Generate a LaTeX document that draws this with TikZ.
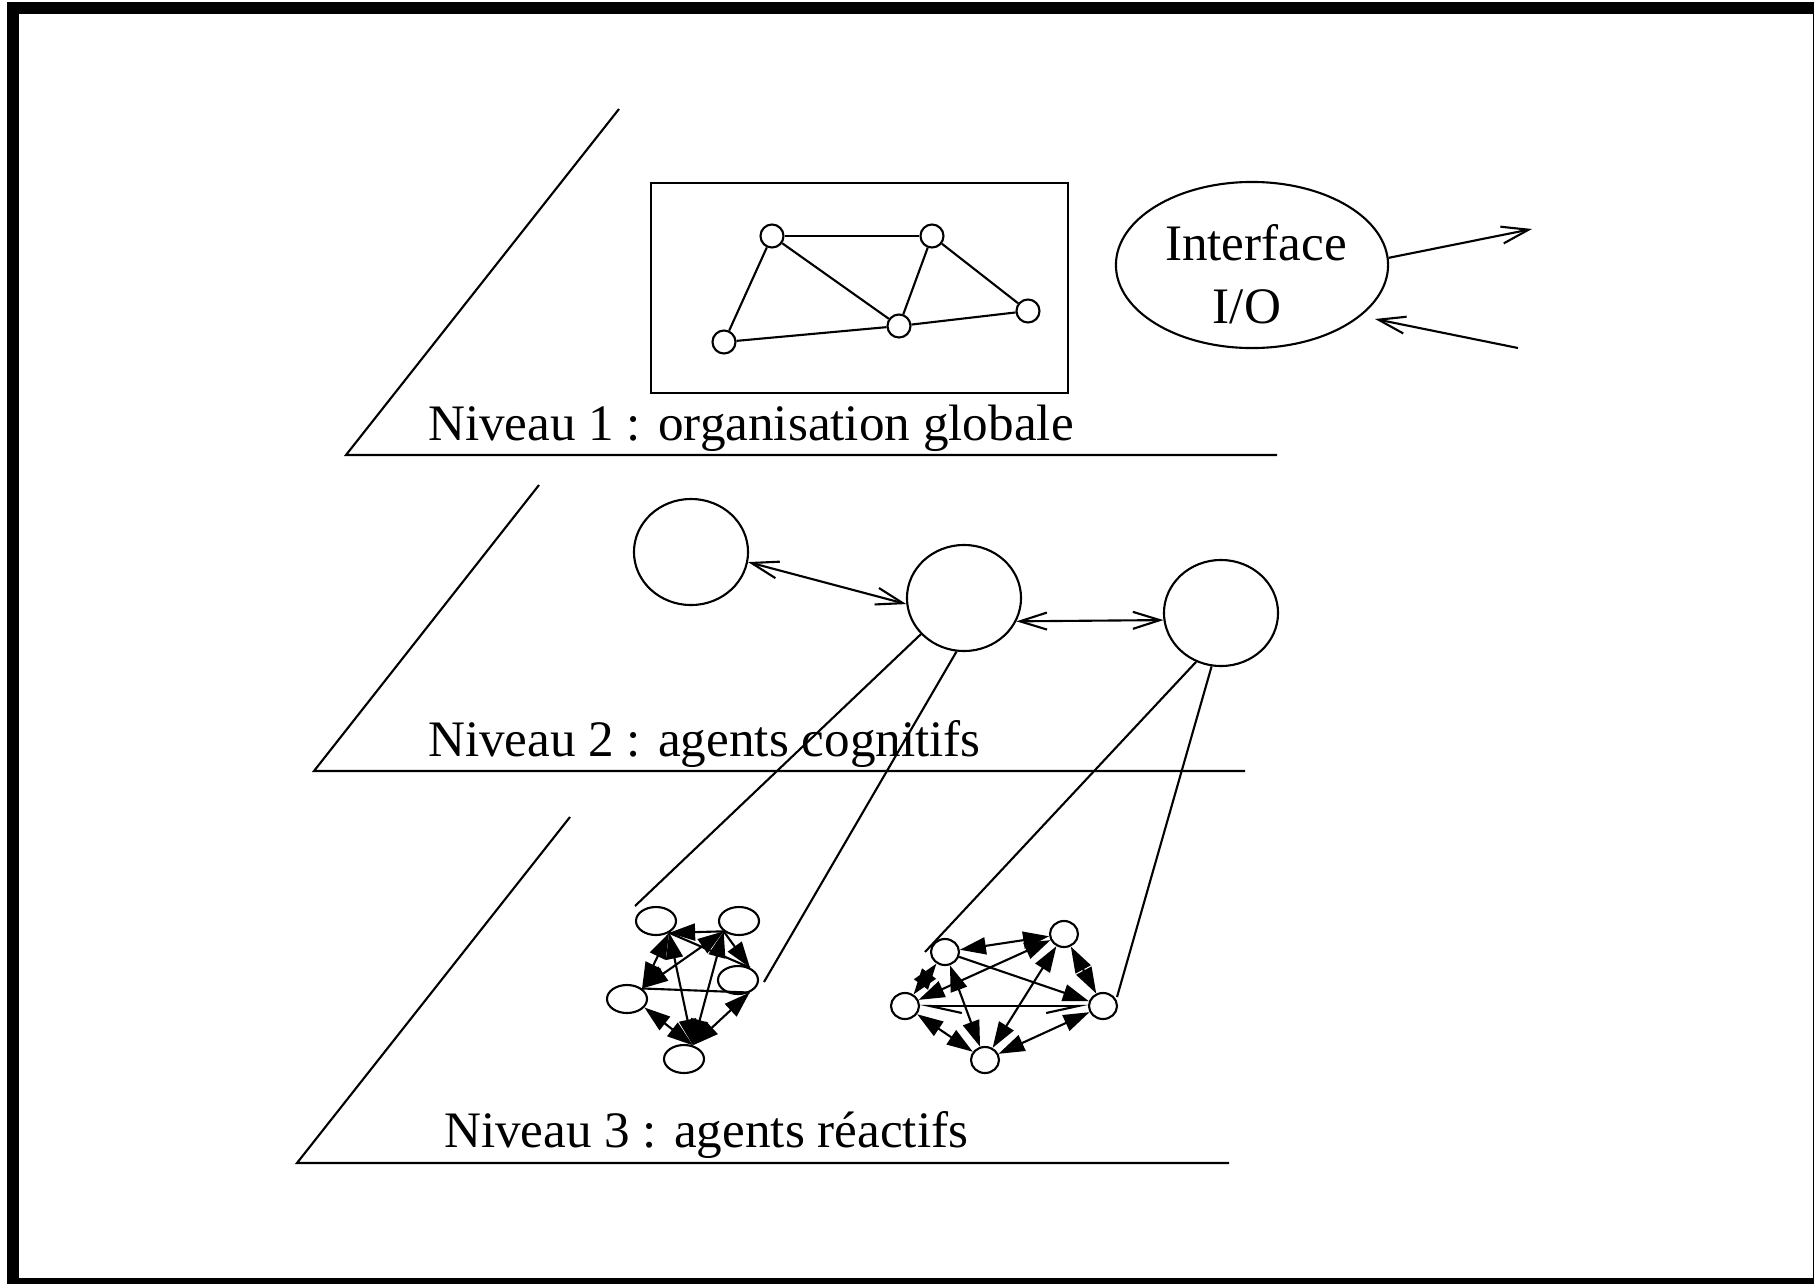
\documentclass[tikz,border=0pt]{standalone}
\usepackage{fontspec}
\setmainfont{Liberation Serif}
\usetikzlibrary{shapes.geometric,arrows.meta}
\begin{document}
\begin{tikzpicture}[x=0.01cm,y=-0.01cm,line width=0.6pt,
  lab/.style={font=\fontsize{14.55}{17}\selectfont,inner sep=0pt,anchor=base west},
  iotext/.style={font=\fontsize{14.55}{17}\selectfont,inner sep=0pt,anchor=base},
  snode/.style={circle,draw,minimum size=0.23cm,inner sep=0pt},
  agent/.style={ellipse,draw,minimum width=1.14cm,minimum height=1.06cm,inner sep=0pt},
  rA/.style={ellipse,draw,minimum width=0.40cm,minimum height=0.28cm,inner sep=0pt},
  rB/.style={ellipse,draw,minimum width=0.28cm,minimum height=0.26cm,inner sep=0pt},
  openarr/.style={-{Straight Barb[length=0.27cm,width=0.17cm]}},
  dopenarr/.style={{Straight Barb[length=0.27cm,width=0.17cm]}-{Straight Barb[length=0.27cm,width=0.17cm]}},
  fa/.style={-{Triangle[length=0.26cm,width=0.17cm]}},
  dfa/.style={{Triangle[length=0.26cm,width=0.17cm]}-{Triangle[length=0.26cm,width=0.17cm]}},
  barbs/.style={{Straight Barb[harpoon,length=0.32cm,width=0.14cm]}-{Straight Barb[harpoon,swap,length=0.32cm,width=0.14cm]}}
]
\useasboundingbox (0,0) rectangle (1814,1284);
% frame
\fill[black] (7,2) rectangle (1814,1284);
\fill[white] (19,14) rectangle (1812.7,1277.7);

% planes
\draw (619,109) -- (346,455) -- (1277,455);
\draw (539,485) -- (314,771) -- (1245,771);
\draw (570,817) -- (297,1163) -- (1229,1163);

\node[lab] (t1) at (427,440) {Niveau 1 : organisation globale};
\node[lab] (t2) at (427,756) {Niveau 2 : agents cognitifs};
\node[lab] (t3) at (443,1147) {Niveau 3 : agents réactifs};

% level 1 box and network
\draw (651,183) rectangle (1068,393);
\node[snode] (A) at (772,236) {};
\node[snode] (B) at (932,236) {};
\node[snode] (C) at (724,342) {};
\node[snode] (D) at (899,326) {};
\node[snode] (E) at (1028,311) {};
\draw (A) -- (B);
\draw (A) -- (C);
\draw (A) -- (D);
\draw (B) -- (D);
\draw (B) -- (E);
\draw (C) -- (D);
\draw (D) -- (E);

% interface
\node[ellipse,draw,minimum width=2.72cm,minimum height=1.66cm,inner sep=0pt] (io) at (1252,265) {};
\node[iotext] (it1) at (1256,260) {Interface};
\node[iotext] (it2) at (1247,323) {I/O};
\coordinate (outend) at (1532,229);
\coordinate (instart) at (1518,348);
\draw[openarr] (io.3) -- (outend);
\draw[openarr] (instart) -- (1375,319);

% level 2
\node[agent] (C1) at (691,552) {};
\node[agent] (C2) at (964,598) {};
\node[agent] (C3) at (1221,613) {};
\draw[dopenarr] (C1.-10) -- (C2.186);
\draw[dopenarr] (C2.-24) -- (C3.187);

% level 3 cluster 1
\node[rA] (n1) at (656,921) {};
\node[rA] (n2) at (739,921) {};
\node[rA] (n3) at (627,999) {};
\node[rA] (n4) at (738,980) {};
\node[rA] (n5) at (684,1059) {};
\draw[fa] (n2.214) -- (n1.-42);
\draw[dfa] (n1.-42) -- (n3.35);
\draw[dfa] (n2.214) -- (n3.35);
\draw[dfa] (n1.-42) -- (n5.57);
\draw[dfa] (n2.214) -- (n5.57);
\draw[dfa] (n3.-26) -- (n5.57);
\draw[dfa] (n4.-47) -- (n5.57);
\draw[fa] (n2.214) -- (n4.46);
\draw (n1.-42) -- (n4.46);
\draw (n3.35) -- (n4.-47);

% level 3 cluster 2
\node[rB] (m1) at (945,952) {};
\node[rB] (m2) at (1064,934) {};
\node[rB] (m3) at (905,1006) {};
\node[rB] (m4) at (1103,1006) {};
\node[rB] (m5) at (985,1060) {};
\draw[dfa] (m1) -- (m2);
\draw[fa] (m1) -- (m4);
\draw[dfa] (m1) -- (m3);
\draw[dfa] (m3) -- (m2);
\draw[barbs] (m3) -- (m4);
\draw[dfa] (m1) -- (m5);
\draw[dfa] (m2) -- (m5);
\draw[dfa] (m2) -- (m4);
\draw[dfa] (m3) -- (m5);
\draw[dfa] (m4) -- (m5);

% links between levels
\coordinate (p1) at (635,906);
\coordinate (p2) at (764,982);
\coordinate (q1) at (925,952);
\coordinate (q2) at (1117,997);
\draw (C2.220) -- (p1);
\draw (C2.262) -- (p2);
\draw (C3.243) -- (q1);
\draw (C3.260) -- (q2);
\end{tikzpicture}
\end{document}
